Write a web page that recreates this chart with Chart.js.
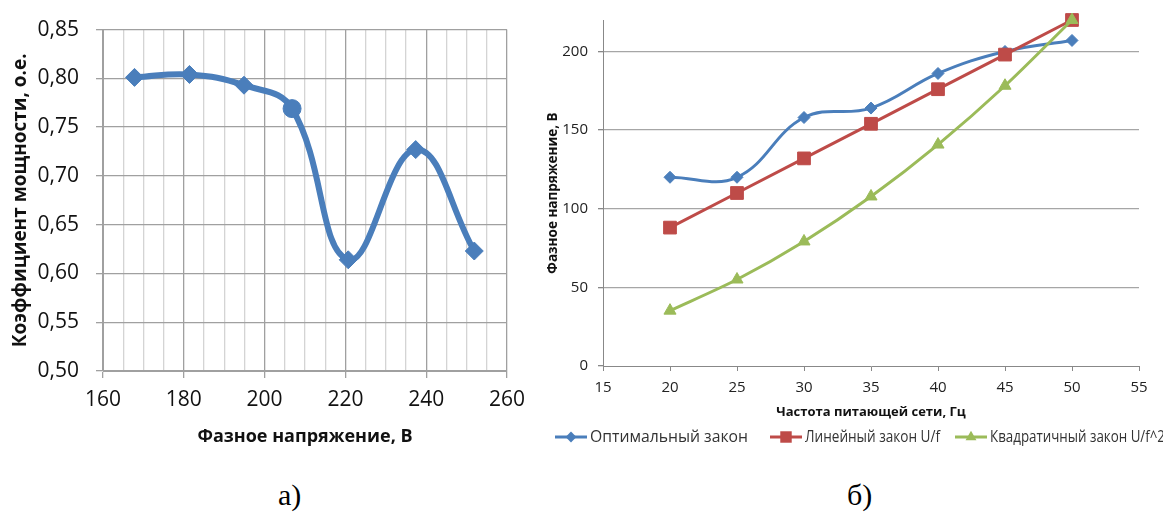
<!DOCTYPE html>
<html>
<head>
<meta charset="utf-8">
<script src="https://cdn.jsdelivr.net/npm/chart.js@4.4.0/dist/chart.umd.min.js"></script>
<style>
  body { margin: 0; background: #fff; width: 1163px; height: 517px; position: relative; overflow: hidden; }
  #leftBox { position: absolute; left: 0; top: 0; width: 540px; height: 470px; }
  #rightBox { position: absolute; left: 540px; top: 0; width: 623px; height: 470px; }
  .cap { position: absolute; top: 478px; font-family: "Liberation Serif", serif; font-size: 30px; color: #000; }
</style>
</head>
<body>
<div id="leftBox"><canvas id="pfChart"></canvas></div>
<div id="rightBox"><canvas id="uChart"></canvas></div>
<div class="cap" style="left:278px">а)</div>
<div class="cap" style="left:847px">б)</div>
<script>
// chart a) - power factor vs phase voltage
const voltage = [167.8, 181.4, 194.9, 206.8, 220.7, 237.4, 251.9];
const powerFactor = [0.801, 0.804, 0.793, 0.769, 0.614, 0.727, 0.623];
const pfMarkers = ['rectRot', 'rectRot', 'rectRot', 'circle', 'rectRot', 'rectRot', 'rectRot'];

// chart b) - phase voltage vs supply frequency
const freq = [20, 25, 30, 35, 40, 45, 50];
const uOptimal = [120, 120, 158, 164, 186, 200, 207];
const uLinear = [88, 110, 132, 154, 176, 198, 220];
const uQuadratic = [35.2, 55, 79.2, 107.8, 140.8, 178.2, 220];
const seriesNames = ['Оптимальный закон', 'Линейный закон U/f', 'Квадратичный закон U/f^2'];

const FONT = '"Open Sans", "Noto Sans", sans-serif';
const blue = '#4a7ebb';
const red = '#be4b48';
const green = '#9bbb59';

Chart.defaults.font.family = FONT;
Chart.defaults.color = '#111';

new Chart(document.getElementById('pfChart'), {
    type: 'line',
    data: {
        datasets: [{
            data: voltage.map((v, i) => ({ x: v, y: powerFactor[i] })),
            borderColor: blue,
            backgroundColor: blue,
            borderWidth: 6,
            tension: 0.42,
            pointStyle: pfMarkers,
            pointRadius: 9,
            pointBorderWidth: 1,
            clip: false
        }]
    },
    options: {
        responsive: true,
        maintainAspectRatio: false,
        animation: false,
        layout: { padding: { top: 25, right: 33, left: 0, bottom: 0 } },
        plugins: { legend: { display: false }, tooltip: { enabled: false } },
        scales: {
            x: {
                type: 'linear',
                min: 160,
                max: 260,
                ticks: {
                    stepSize: 5,
                    autoSkip: false,
                    maxRotation: 0,
                    padding: 9,
                    font: { size: 21 },
                    callback: v => (v % 20 === 0 ? v : '')
                },
                grid: {
                    color: ctx => (ctx.tick && ctx.tick.value % 20 === 0 ? '#a0a0a0' : '#d4d4d4'),
                    tickColor: ctx => (ctx.tick && ctx.tick.value % 20 === 0 ? '#a0a0a0' : 'rgba(0,0,0,0)'),
                    tickLength: 7,
                    lineWidth: 1.3
                },
                border: { color: '#a0a0a0' },
                title: {
                    display: true,
                    text: 'Фазное напряжение, В',
                    font: { size: 18, weight: 'bold' },
                    color: '#111',
                    padding: { top: 0, bottom: 22 }
                },
                afterFit: s => { s.height = 99; }
            },
            y: {
                min: 0.5,
                max: 0.85,
                ticks: {
                    stepSize: 0.05,
                    padding: 17,
                    font: { size: 21 },
                    callback: v => v.toFixed(2).replace('.', ',')
                },
                grid: { color: '#a0a0a0', tickColor: '#a0a0a0', tickLength: 7, lineWidth: 1.3 },
                border: { color: '#a0a0a0' },
                title: {
                    display: true,
                    text: 'Коэффициент мощности, о.е.',
                    font: { size: 19, weight: 'bold' },
                    color: '#111',
                    padding: { top: 9, bottom: 0 }
                },
                afterFit: s => { s.width = 103; }
            }
        }
    }
});

// legend with line + marker, drawn under the axis title
function drawMarker(ctx, style, r, x, y) {
    ctx.beginPath();
    if (style === 'rectRot') {
        ctx.moveTo(x - r, y); ctx.lineTo(x, y - r); ctx.lineTo(x + r, y); ctx.lineTo(x, y + r);
    } else if (style === 'rect') {
        const s = r * Math.SQRT1_2;
        ctx.rect(x - s, y - s, 2 * s, 2 * s);
    } else {
        ctx.moveTo(x, y - r); ctx.lineTo(x + r * 0.87, y + r * 0.5); ctx.lineTo(x - r * 0.87, y + r * 0.5);
    }
    ctx.closePath();
    ctx.fill();
}

const legendSlots = [15, 230, 415];   // left edge of each legend item
const legendTextWidth = [158, 135, 175];

const legendBelow = {
    id: 'legendBelow',
    afterDraw(chart) {
        const ctx = chart.ctx;
        ctx.save();
        ctx.font = '16px ' + FONT;
        ctx.textBaseline = 'middle';
        const y = 437;
        chart.data.datasets.forEach((ds, i) => {
            const x = legendSlots[i];
            ctx.strokeStyle = ds.borderColor;
            ctx.fillStyle = ds.borderColor;
            ctx.lineWidth = 3;
            ctx.beginPath();
            ctx.moveTo(x, y);
            ctx.lineTo(x + 32, y);
            ctx.stroke();
            drawMarker(ctx, ds.pointStyle, ds.pointRadius * 0.9, x + 16, y);
            ctx.fillStyle = '#333';
            ctx.fillText(ds.label, x + 35, y, legendTextWidth[i]);
        });
        ctx.restore();
    }
};

new Chart(document.getElementById('uChart'), {
    type: 'line',
    data: {
        datasets: [
            {
                label: seriesNames[0],
                data: freq.map((f, i) => ({ x: f, y: uOptimal[i] })),
                borderColor: blue, backgroundColor: blue,
                borderWidth: 3, tension: 0.4,
                pointStyle: 'rectRot', pointRadius: 6, pointBorderWidth: 1,
                order: 3, clip: false
            },
            {
                label: seriesNames[1],
                data: freq.map((f, i) => ({ x: f, y: uLinear[i] })),
                borderColor: red, backgroundColor: red,
                borderWidth: 3, tension: 0,
                pointStyle: 'rect', pointRadius: 9, pointBorderWidth: 1,
                order: 2, clip: false
            },
            {
                label: seriesNames[2],
                data: freq.map((f, i) => ({ x: f, y: uQuadratic[i] })),
                borderColor: green, backgroundColor: green,
                borderWidth: 3, tension: 0.3,
                pointStyle: 'triangle', pointRadius: 7, pointBorderWidth: 1,
                order: 1, clip: false
            }
        ]
    },
    options: {
        responsive: true,
        maintainAspectRatio: false,
        animation: false,
        layout: { padding: { top: 20, right: 24, left: 0, bottom: 0 } },
        plugins: { legend: { display: false }, tooltip: { enabled: false } },
        scales: {
            x: {
                type: 'linear',
                min: 15,
                max: 55,
                ticks: { stepSize: 5, padding: 8, font: { size: 15 }, maxRotation: 0, color: '#222' },
                grid: { drawOnChartArea: false, tickColor: '#888', tickLength: 5 },
                border: { color: '#888' },
                title: {
                    display: true,
                    text: 'Частота питающей сети, Гц',
                    font: { size: 13, weight: 'bold' },
                    color: '#111',
                    padding: { top: 0, bottom: 50 }
                },
                afterFit: s => { s.height = 104; }
            },
            y: {
                min: 0,
                max: 220,
                ticks: { stepSize: 50, padding: 10, font: { size: 15 }, color: '#222' },
                afterBuildTicks: s => { s.ticks = s.ticks.filter(t => t.value % 50 === 0); },
                grid: {
                    color: ctx => (ctx.tick && ctx.tick.value === 0 ? 'rgba(0,0,0,0)' : '#a6a6a6'),
                    tickColor: '#888',
                    tickLength: 5,
                    lineWidth: 1.3
                },
                border: { color: '#888' },
                title: {
                    display: true,
                    text: 'Фазное напряжение, В',
                    font: { size: 13.5, weight: 'bold' },
                    color: '#111',
                    padding: { top: 5, bottom: 0 }
                },
                afterFit: s => { s.width = 63; }
            }
        }
    },
    plugins: [legendBelow]
});
</script>
</body>
</html>
